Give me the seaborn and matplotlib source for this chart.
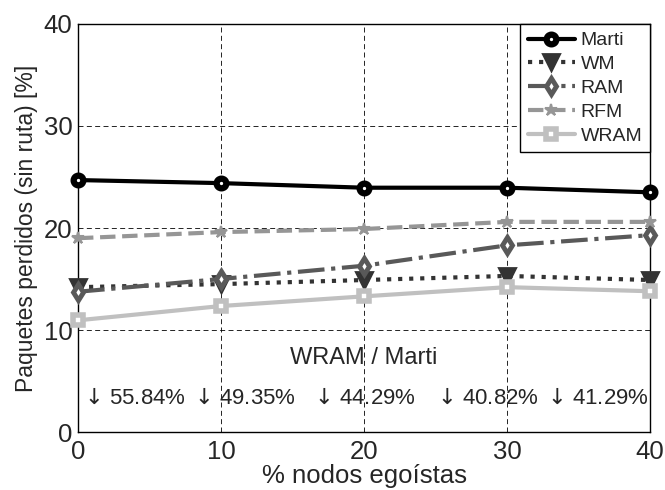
import matplotlib
matplotlib.use("Agg")
import matplotlib.pyplot as plt
import seaborn as sns
import pandas as pd

# data
egoistas = [0, 10, 20, 30, 40]
marti = [24.7, 24.4, 23.95, 23.95, 23.5]
wm = [14.2, 14.5, 14.9, 15.3, 14.9]
ram = [13.75, 15.0, 16.3, 18.3, 19.3]
rfm = [19.0, 19.6, 19.9, 20.6, 20.6]
wram = [10.95, 12.35, 13.3, 14.2, 13.8]
reducciones = ["55.84%", "49.35%", "44.29%", "40.82%", "41.29%"]

series = {"Marti": marti, "WM": wm, "RAM": ram, "RFM": rfm, "WRAM": wram}

# styles for each series (matlab-ish look)
estilos = {
    "Marti": dict(color="#000000", ls="-", marker="o", ms=7, mfc="white", mew=4.5),
    "WM": dict(color="#333333", ls=":", marker="v", ms=11, mfc="#333333", mew=2),
    "RAM": dict(color="#595959", ls="-.", marker="d", ms=8.5, mfc="white", mew=3.5),
    "RFM": dict(color="#969696", ls="--", marker="*", ms=9, mfc="#969696", mew=1.5),
    "WRAM": dict(color="#c0c0c0", ls="-", marker="s", ms=7, mfc="white", mew=4),
}

sns.set_style("white")
plt.rcParams["font.family"] = ["Liberation Sans", "DejaVu Sans"]
plt.rcParams["mathtext.fontset"] = "dejavusans"

fig = plt.figure(figsize=(6.65, 4.9), dpi=100)
ax = fig.add_axes([78 / 665, 1 - 432 / 490, 572 / 665, 408 / 490])

for nombre, valores in series.items():
    df = pd.DataFrame({"x": egoistas, "y": valores})
    st = estilos[nombre]
    sns.lineplot(data=df, x="x", y="y", ax=ax, color=st["color"], linestyle=st["ls"],
                 linewidth=3, marker=st["marker"], markersize=st["ms"],
                 markerfacecolor=st["mfc"], markeredgecolor=st["color"],
                 markeredgewidth=st["mew"], label=nombre, clip_on=False, zorder=3)

ax.set_xlim(0, 40)
ax.set_ylim(0, 40)
ax.set_xticks([0, 10, 20, 30, 40])
ax.set_yticks([0, 10, 20, 30, 40])
ax.grid(True, color="black", linestyle=(0, (6, 4)), linewidth=0.6)
ax.tick_params(axis="both", labelsize=18.5, length=0)
ax.tick_params(axis="x", pad=6)
ax.tick_params(axis="y", pad=4)
for s in ax.spines.values():
    s.set_color("black")
    s.set_linewidth(1)

ax.set_xlabel("% nodos egoístas", fontsize=18.5, labelpad=0)
ax.set_ylabel("Paquetes perdidos (sin ruta) [%]", fontsize=16.5, labelpad=4)

# annotations
ax.text(20, 7.25, "WRAM / Marti", ha="center", va="center", fontsize=17)
pos_x = [3.85, 11.5, 19.9, 28.5, 36.2]
for px, txt in zip(pos_x, reducciones):
    ax.text(px, 3.3, r"$\downarrow$" + "\u200a" + txt, ha="center", va="center", fontsize=16)

leg = ax.legend(loc="upper right", borderaxespad=0, fontsize=14, handlelength=2.4,
                handletextpad=0.3, labelspacing=0.32, borderpad=0.4,
                fancybox=False, framealpha=1)
leg.get_frame().set_edgecolor("black")
leg.get_frame().set_linewidth(1)

fig.savefig("out.png", dpi=100)
